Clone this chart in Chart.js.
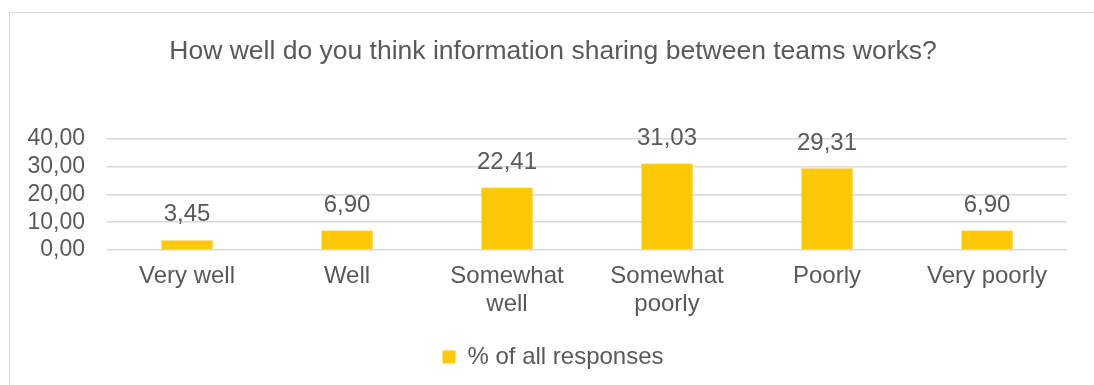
<!DOCTYPE html>
<html>
<head>
<meta charset="utf-8">
<script src="https://cdn.jsdelivr.net/npm/chart.js@4"></script>
<style>
  body { margin: 0; background: #fff; overflow: hidden; }
  .moldura { position: absolute; left: 9px; top: 12px; width: 1100px; height: 400px; border: 1.5px solid #d9d9d9; }
  #grafico { position: absolute; left: 0; top: 0; }
</style>
</head>
<body>
<div class="moldura"></div>
<canvas id="grafico" width="1094" height="385"></canvas>
<script>
const categorias = ['Very well', 'Well', ['Somewhat', 'well'], ['Somewhat', 'poorly'], 'Poorly', 'Very poorly'];
const percentuais = [3.45, 6.90, 22.41, 31.03, 29.31, 6.90];
const nomeSerie = '% of all responses';
const titulo = 'How well do you think information sharing between teams works?';

const corTexto = '#595959';
const fonte = 'Liberation Sans, Arial, sans-serif';

function virgula(v) {
  return Number(v).toFixed(2).replace('.', ',');
}

// rótulos de valor acima das barras
const rotulosValor = {
  id: 'rotulosValor',
  afterDatasetsDraw(chart) {
    const ctx = chart.ctx;
    const meta = chart.getDatasetMeta(0);
    ctx.save();
    ctx.font = '24px ' + fonte;
    ctx.fillStyle = corTexto;
    ctx.textAlign = 'center';
    ctx.textBaseline = 'alphabetic';
    meta.data.forEach((barra, i) => {
      ctx.fillText(virgula(chart.data.datasets[0].data[i]), barra.x, barra.y - 19);
    });
    ctx.restore();
  }
};

const ctx = document.getElementById('grafico').getContext('2d');

new Chart(ctx, {
  type: 'bar',
  data: {
    labels: categorias,
    datasets: [{
      label: nomeSerie,
      data: percentuais,
      backgroundColor: '#ffc908',
      barPercentage: 0.32,
      categoryPercentage: 1
    }]
  },
  options: {
    responsive: false,
    animation: false,
    layout: { padding: { left: 20, right: 8, top: 0, bottom: 6 } },
    scales: {
      x: {
        grid: { display: false },
        border: { display: false },
        ticks: { color: corTexto, font: { size: 24, family: fonte, lineHeight: 1.17 }, padding: 4, maxRotation: 0 },
        afterFit(scale) { scale.height = 85; }
      },
      y: {
        min: 0,
        max: 40,
        ticks: { stepSize: 10, autoSkip: false, color: corTexto, font: { size: 23, family: fonte }, padding: 22, callback: v => virgula(v) },
        grid: { color: '#d9d9d9', lineWidth: 1.5, drawTicks: false },
        border: { display: false },
        afterFit(scale) { scale.width = 87; }
      },
      // eixo vazio à direita, só reserva espaço
      margem: {
        type: 'linear',
        position: 'right',
        grid: { display: false },
        border: { display: false },
        ticks: { display: false },
        afterFit(scale) { scale.width = 19; }
      }
    },
    plugins: {
      title: {
        display: true,
        text: titulo,
        color: corTexto,
        font: { size: 26.5, family: fonte, weight: 'normal' },
        padding: { top: 36, bottom: 71 }
      },
      legend: {
        position: 'bottom',
        labels: { boxWidth: 13, boxHeight: 13, color: corTexto, font: { size: 24, family: fonte } }
      },
      tooltip: { enabled: false }
    }
  },
  plugins: [rotulosValor]
});
</script>
</body>
</html>
